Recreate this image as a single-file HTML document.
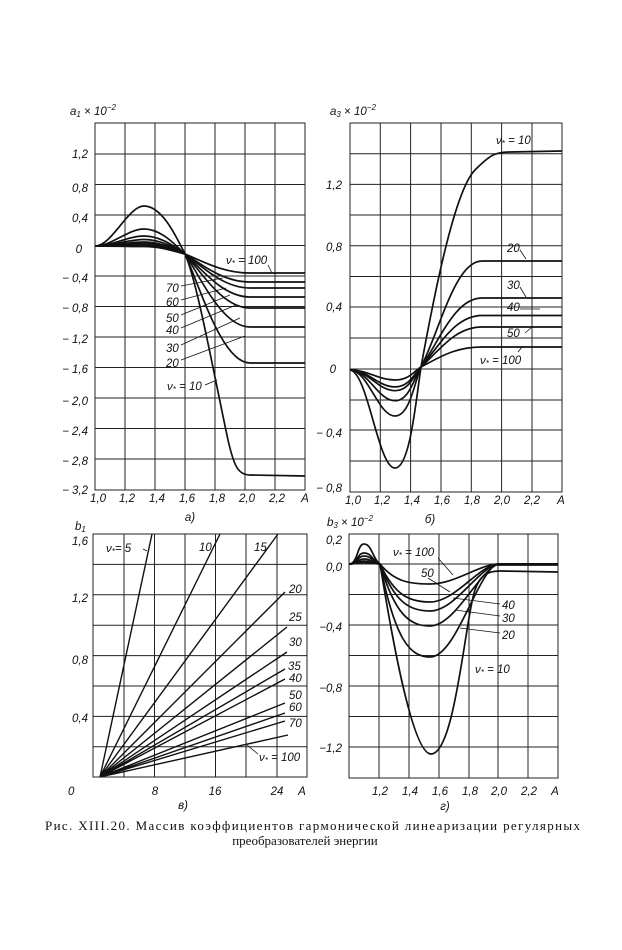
<!DOCTYPE html>
<html><head><meta charset="utf-8"><style>
html,body{margin:0;padding:0;background:#fff}
svg{display:block}
text{font-family:"Liberation Sans",sans-serif;font-style:italic;font-size:11.5px;fill:#111}
.g{stroke:#222;stroke-width:1;fill:none}
.c{stroke:#111;stroke-width:1.7;fill:none}
.l{stroke:#111;stroke-width:0.8;fill:none}
.cap{font-style:normal;font-family:"Liberation Serif",serif;font-size:13px}
</style></head><body>
<svg width="622" height="950" viewBox="0 0 622 950">
<!-- Panel a -->
<g class="g">
<rect x="95" y="123" width="210" height="367"/>
<path d="M125 123V490M155 123V490M185 123V490M215 123V490M245 123V490M275 123V490"/>
<path d="M95 154H305M95 184.5H305M95 215H305M95 245.5H305M95 276H305M95 306.5H305M95 337H305M95 367.5H305M95 398H305M95 428.5H305M95 459H305"/>
</g>
<g class="c">
<path d="M95 246C112 246 128 206 144 206C162 206 176 236 185 254C197 280 215 380 228 440C234 466 238 475 250 475L305 476"/>
<path d="M95 246C112 246 128 229 144 229C162 229 176 246 185 254C200 287 222 363 250 363L305 363"/>
<path d="M95 246C112 246 128 236 144 236C162 236 176 248 185 254C200 276 222 327 250 327L305 327"/>
<path d="M95 246C112 246 128 239.5 144 239.5C162 239.5 176 249 185 254C200 270 222 308 250 308L305 308"/>
<path d="M95 246C112 246 128 242 144 242C162 242 176 250 185 254C200 267 222 297 250 297L305 297"/>
<path d="M95 246C112 246 128 243.5 144 243.5C162 243.5 176 251 185 254C200 264 222 288 250 288L305 288"/>
<path d="M95 246C112 246 128 245 144 245C162 245 176 251.5 185 254C200 263 222 282 250 282L305 282"/>
<path d="M95 246C112 246 128 246.5 144 246.5C162 246.5 176 252 185 254C200 260 222 273 250 273L305 273"/>
</g>
<g class="l">
<path d="M268 265L272 273M181 286L223 278M181 300L226 288M181 315L230 295M181 328L236 305M181 345L240 318M181 360L245 336M205 385L217 380"/>
</g>
<text x="70" y="115">a<tspan font-size="8" dy="2">1</tspan><tspan dy="-2"> × 10</tspan><tspan font-size="8" dy="-5">−2</tspan></text>
<g text-anchor="end">
<text x="88" y="158">1,2</text><text x="88" y="192">0,8</text><text x="88" y="222">0,4</text><text x="82" y="253">0</text>
<text x="88" y="282">− 0,4</text><text x="88" y="312">− 0,8</text><text x="88" y="343">− 1,2</text><text x="88" y="373">− 1,6</text>
<text x="88" y="405">− 2,0</text><text x="88" y="435">− 2,4</text><text x="88" y="465">− 2,8</text><text x="88" y="494">− 3,2</text>
</g>
<g text-anchor="middle">
<text x="98" y="502">1,0</text><text x="127" y="502">1,2</text><text x="157" y="502">1,4</text><text x="187" y="502">1,6</text><text x="217" y="502">1,8</text><text x="247" y="502">2,0</text><text x="277" y="502">2,2</text><text x="305" y="502">A</text>
<text x="190" y="521">а)</text>
</g>
<text x="226" y="264">ν<tspan font-size="8" dy="2">*</tspan><tspan dy="-2"> = 100</tspan></text>
<text x="166" y="292">70</text><text x="166" y="306">60</text><text x="166" y="322">50</text><text x="166" y="334">40</text><text x="166" y="352">30</text><text x="166" y="367">20</text>
<text x="167" y="390">ν<tspan font-size="8" dy="2">*</tspan><tspan dy="-2"> = 10</tspan></text>

<!-- Panel b -->
<g class="g">
<rect x="350" y="123" width="212" height="369"/>
<path d="M380.3 123V492M410.6 123V492M441 123V492M471.3 123V492M501.6 123V492M532 123V492"/>
<path d="M350 153.7H562M350 184.4H562M350 215H562M350 245.8H562M350 276.5H562M350 307H562M350 338H562M350 369H562M350 400H562M350 430H562M350 461H562"/>
</g>
<g class="c">
<path d="M350 370C368 372 378 468 395 468C410 468 416 400 421 367C435 290 455 190 475 170C490 155 495 152 510 152L562 151"/>
<path d="M350 370C368 370 378 416 395 416C410 416 415 380 421 367C440 330 455 261 482 261L562 261"/>
<path d="M350 370C368 370 378 400.7 395 400.7C410 400.7 415 375 421 367C440 340 455 298 482 298L562 298"/>
<path d="M350 370C368 370 378 390.7 395 390.7C410 390.7 415 373 421 367C440 345 455 315.5 482 315.5L562 315.5"/>
<path d="M350 370C368 370 378 386.9 395 386.9C410 386.9 415 372 421 367C440 350 455 327 482 327L562 327"/>
<path d="M350 370C368 370 378 380 395 380C410 380 415 370 421 367C440 357 455 347 482 347L562 347"/>
</g>
<g class="l"><path d="M520 250L526 259M520 287L526 297M520 309L540 309M525 333L532 327M518 352L522 347"/></g>
<text x="330" y="115">a<tspan font-size="8" dy="2">3</tspan><tspan dy="-2"> × 10</tspan><tspan font-size="8" dy="-5">−2</tspan></text>
<g text-anchor="end">
<text x="342" y="189">1,2</text><text x="342" y="251">0,8</text><text x="342" y="311">0,4</text><text x="336" y="373">0</text><text x="342" y="437">− 0,4</text><text x="342" y="492">− 0,8</text>
</g>
<g text-anchor="middle">
<text x="353" y="504">1,0</text><text x="382" y="504">1,2</text><text x="412" y="504">1,4</text><text x="442" y="504">1,6</text><text x="472" y="504">1,8</text><text x="502" y="504">2,0</text><text x="532" y="504">2,2</text><text x="561" y="504">A</text>
<text x="430" y="523">б)</text>
</g>
<text x="496" y="144">ν<tspan font-size="8" dy="2">*</tspan><tspan dy="-2"> = 10</tspan></text>
<text x="507" y="252">20</text><text x="507" y="289">30</text><text x="507" y="311">40</text><text x="507" y="337">50</text>
<text x="480" y="364">ν<tspan font-size="8" dy="2">*</tspan><tspan dy="-2"> = 100</tspan></text>

<!-- Panel v -->
<g class="g">
<rect x="93" y="534" width="214" height="243"/>
<path d="M124 534V777M154.5 534V777M185 534V777M215.5 534V777M246 534V777M277 534V777"/>
<path d="M93 564.4H307M93 594.8H307M93 625.2H307M93 655.6H307M93 686H307M93 716.4H307M93 746.8H307"/>
</g>
<g class="c" style="stroke-width:1.4">
<path d="M100 777L152 534M100 777L220 534M100 777L278 534M100 777L285 592M100 777L287 627M100 777L287 652M100 777L285 669M100 777L285 679M100 777L285 703M100 777L285 713M100 777L285 721M100 777L288 735"/>
</g>
<g class="l"><path d="M143 549L147 551M247 745L258 754"/></g>
<text x="75" y="530">b<tspan font-size="8" dy="2">1</tspan></text>
<g text-anchor="end">
<text x="88" y="545">1,6</text><text x="88" y="602">1,2</text><text x="88" y="664">0,8</text><text x="88" y="722">0,4</text>
</g>
<text x="68" y="795">0</text>
<g text-anchor="middle">
<text x="155" y="795">8</text><text x="215" y="795">16</text><text x="277" y="795">24</text><text x="302" y="795">A</text><text x="183" y="809">в)</text>
</g>
<text x="106" y="552">ν<tspan font-size="8" dy="2">*</tspan><tspan dy="-2">= 5</tspan></text>
<text x="199" y="551">10</text><text x="254" y="551">15</text>
<text x="289" y="593">20</text><text x="289" y="621">25</text><text x="289" y="646">30</text><text x="288" y="670">35</text><text x="289" y="682">40</text><text x="289" y="699">50</text><text x="289" y="711">60</text><text x="289" y="727">70</text>
<text x="259" y="761">ν<tspan font-size="8" dy="2">*</tspan><tspan dy="-2"> = 100</tspan></text>

<!-- Panel g -->
<g class="g">
<rect x="349" y="534" width="209" height="244"/>
<path d="M379 534V778M409 534V778M439 534V778M469 534V778M498 534V778M528 534V778"/>
<path d="M349 564H558M349 594.5H558M349 625H558M349 655.5H558M349 686H558M349 716.5H558M349 747H558"/>
</g>
<g class="c">
<path d="M349 564C358 564 357 544 364 544C372 544 373 560 380 564C386 600 410 754 431 754C455 754 465 620 475 590C480 575 488 571 500 571L558 572"/>
<path d="M349 564C358 564 357 553 364 553C372 553 373 562 380 564C395 640 410 657 430 657C455 657 475 580 495 565L558 565"/>
<path d="M349 564C358 564 357 556 364 556C372 556 373 563 380 564C395 615 410 626 430 626C455 626 478 572 498 564L558 564"/>
<path d="M349 564C358 564 357 559 364 559C372 559 373 563 380 564C395 603 410 611 430 611C455 611 478 568 498 564L558 564"/>
<path d="M349 564C358 564 357 561 364 561C372 561 373 564 380 564C395 596 410 602 430 602C455 602 478 566 498 564L558 564"/>
<path d="M349 564C358 564 357 562.5 364 562.5C372 562.5 373 564 380 564C395 582 410 584 430 584C455 584 478 565 498 564L558 564"/>
</g>
<g class="l"><path d="M438 558L453 575M428 578L450 592M500 604L453 598M500 616L455 610M500 633L460 628"/></g>
<text x="327" y="526">b<tspan font-size="8" dy="2">3</tspan><tspan dy="-2"> × 10</tspan><tspan font-size="8" dy="-5">−2</tspan></text>
<g text-anchor="end">
<text x="342" y="544">0,2</text><text x="342" y="571">0,0</text><text x="342" y="631">−0,4</text><text x="342" y="692">−0,8</text><text x="342" y="752">−1,2</text>
</g>
<g text-anchor="middle">
<text x="380" y="795">1,2</text><text x="410" y="795">1,4</text><text x="440" y="795">1,6</text><text x="470" y="795">1,8</text><text x="499" y="795">2,0</text><text x="529" y="795">2,2</text><text x="555" y="795">A</text><text x="445" y="810">г)</text>
</g>
<text x="393" y="556">ν<tspan font-size="8" dy="2">*</tspan><tspan dy="-2"> = 100</tspan></text>
<text x="421" y="577">50</text><text x="502" y="609">40</text><text x="502" y="622">30</text><text x="502" y="639">20</text>
<text x="475" y="673">ν<tspan font-size="8" dy="2">*</tspan><tspan dy="-2"> = 10</tspan></text>

<!-- caption -->
<text class="cap" x="45" y="830" textLength="535" lengthAdjust="spacing">Рис. XIII.20. Массив коэффициентов гармонической линеаризации регулярных</text>
<text class="cap" x="305" y="845" text-anchor="middle">преобразователей энергии</text>
</svg>
</body></html>
